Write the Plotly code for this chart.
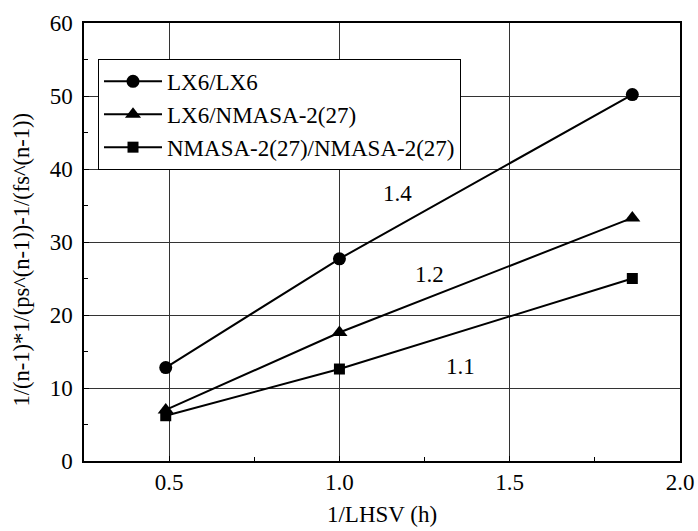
import plotly.graph_objects as go

x_vals = [0.49, 1.0, 1.86]
lx6_lx6 = [12.8, 27.7, 50.2]
lx6_nmasa = [7.0, 17.6, 33.3]
nmasa_nmasa = [6.2, 12.6, 25.0]
series_names = ["LX6/LX6", "LX6/NMASA-2(27)", "NMASA-2(27)/NMASA-2(27)"]
symbols = ["circle", "triangle-up", "square"]
marker_sizes = [13, 14, 11]
label_text = ["1.4", "1.2", "1.1"]
label_x = [1.17, 1.265, 1.355]
label_y = [36.6, 25.6, 12.9]
y_title = "1/(n-1)*1/(ps^(n-1))-1/(fs^(n-1))"
x_title = "1/LHSV (h)"

FONT = "Liberation Serif"
FS = 23

fig = go.Figure()
for name, ys, sym, ms in zip(series_names, [lx6_lx6, lx6_nmasa, nmasa_nmasa], symbols, marker_sizes):
    fig.add_trace(go.Scatter(
        x=x_vals, y=ys, mode="lines+markers", name=name,
        line=dict(color="black", width=2),
        marker=dict(symbol=sym, size=ms, color="black"),
    ))

for t, lx, ly in zip(label_text, label_x, label_y):
    fig.add_annotation(x=lx, y=ly, text=t, showarrow=False,
                       font=dict(family=FONT, size=FS, color="black"))

# y-axis title (placed as rotated text, slightly below centre as in the reference)
fig.add_annotation(x=-0.104, y=0.46, xref="paper", yref="paper", text=y_title,
                   textangle=-90, showarrow=False, xanchor="center", yanchor="middle",
                   font=dict(family=FONT, size=22.5, color="black"))

axis_common = dict(
    showline=True, linecolor="black", linewidth=1.5, mirror=True,
    showgrid=True, gridcolor="#333333", gridwidth=1,
    ticks="inside", ticklen=5, tickcolor="black", tickwidth=1,
    zeroline=False, automargin=False,
    tickfont=dict(family=FONT, size=FS, color="black"),
)

fig.update_xaxes(
    range=[0.25, 2.0], dtick=0.5, tick0=0, tickformat=".1f",
    title=dict(text=x_title, font=dict(family=FONT, size=FS, color="black"), standoff=12),
    minor=dict(ticks="inside", ticklen=4, dtick=0.25, tick0=0, tickcolor="black", showgrid=False),
    **axis_common,
)
fig.update_yaxes(
    range=[0, 60], dtick=10,
    minor=dict(ticks="inside", ticklen=4, dtick=5, tickcolor="black", showgrid=False),
    ticklabelstandoff=5,
    **axis_common,
)

fig.update_layout(
    width=698, height=531,
    margin=dict(l=84, r=18, t=23, b=70),
    paper_bgcolor="white", plot_bgcolor="white",
    font=dict(family=FONT, size=FS, color="black"),
    legend=dict(
        x=0.0235, y=0.918, xanchor="left", yanchor="top",
        bgcolor="white", bordercolor="black", borderwidth=1,
        font=dict(family=FONT, size=FS, color="black"),
        itemwidth=58, tracegroupgap=0,
    ),
    showlegend=True,
)

fig.write_html("out.html")
